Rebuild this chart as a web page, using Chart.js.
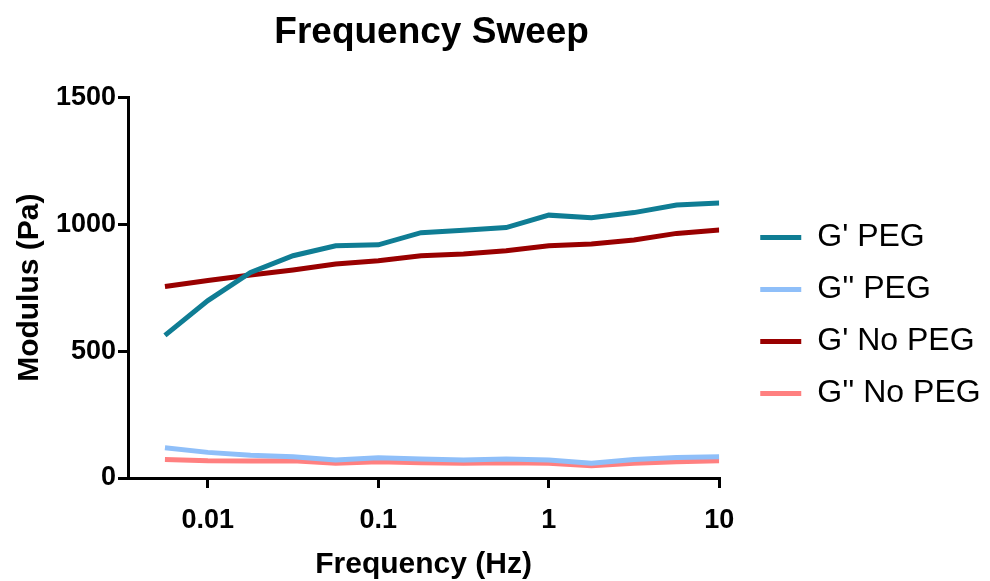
<!DOCTYPE html>
<html>
<head>
<meta charset="utf-8">
<script src="https://cdn.jsdelivr.net/npm/chart.js@4.4.1/dist/chart.umd.min.js"></script>
<style>
  html, body { margin: 0; padding: 0; background: #fff; }
  #wrap { width: 990px; height: 581px; }
</style>
</head>
<body>
<div id="wrap"><canvas id="sweepChart" width="990" height="581"></canvas></div>
<script>
// Frequency points (Hz), 4 per decade
const freqs = [0.0056, 0.01, 0.0178, 0.0316, 0.0562, 0.1, 0.178, 0.316, 0.562, 1, 1.78, 3.16, 5.62, 10];

// Moduli (Pa)
const gPrimePeg = [562, 699, 810, 876, 915, 919, 967, 976, 987, 1036, 1026, 1046, 1076, 1084];
const gDoublePeg = [119, 101, 90, 84, 71, 80, 75, 71, 75, 71, 58, 73, 81, 84];
const gPrimeNoPeg = [755, 778, 800, 820, 843, 856, 876, 883, 896, 915, 922, 938, 964, 977];
const gDoubleNoPeg = [73, 68, 67, 68, 58, 64, 60, 58, 60, 58, 48, 58, 64, 68];

const seriesNames = ["G' PEG", "G'' PEG", "G' No PEG", "G'' No PEG"];
const xTickValues = [0.01, 0.1, 1, 10];
const xTickLabels = ['0.01', '0.1', '1', '10'];
const yTickValues = [0, 500, 1000, 1500];

const colors = {
  teal: '#0f7d94',
  lightBlue: '#8fbff9',
  darkRed: '#990000',
  pink: '#ff8080'
};

const FONT = "'Liberation Sans', Arial, Helvetica, sans-serif";
Chart.defaults.font.family = FONT;
Chart.defaults.color = '#000';

const toPoints = vals => vals.map((v, i) => ({ x: freqs[i], y: v }));

const mkSet = (label, vals, color) => ({
  label,
  data: toPoints(vals),
  borderColor: color,
  backgroundColor: color,
  borderWidth: 5,
  pointRadius: 0,
  tension: 0,
  fill: false
});

// nudge legend + title blocks, like the original layout
const blockNudge = {
  id: 'blockNudge',
  afterLayout(chart) {
    const lg = chart.legend;
    if (lg) {
      lg.left += 21; lg.right += 21;
      lg.top += 25; lg.bottom += 25;
    }
    const tb = chart.titleBlock;
    if (tb) { tb.left += 8; tb.right += 8; }
  }
};

const ctx = document.getElementById('sweepChart').getContext('2d');
new Chart(ctx, {
  type: 'line',
  data: {
    datasets: [
      mkSet(seriesNames[0], gPrimePeg, colors.teal),
      mkSet(seriesNames[1], gDoublePeg, colors.lightBlue),
      mkSet(seriesNames[2], gPrimeNoPeg, colors.darkRed),
      mkSet(seriesNames[3], gDoubleNoPeg, colors.pink)
    ]
  },
  plugins: [blockNudge],
  options: {
    responsive: false,
    animation: false,
    layout: { padding: { right: 31 } },
    plugins: {
      title: {
        display: true,
        text: 'Frequency Sweep',
        fullSize: false,
        font: { size: 37, weight: 'bold' },
        padding: { top: 11, bottom: 42 }
      },
      legend: {
        position: 'right',
        labels: {
          boxWidth: 41,
          boxHeight: 5,
          padding: 20,
          font: { size: 32 },
          generateLabels(chart) {
            return Chart.defaults.plugins.legend.labels.generateLabels(chart)
              .map(l => Object.assign(l, { lineWidth: 0 }));
          }
        }
      },
      tooltip: { enabled: false }
    },
    scales: {
      x: {
        type: 'logarithmic',
        min: 0.0034,
        max: 10,
        afterBuildTicks(scale) {
          scale.ticks = xTickValues.map(v => ({ value: v }));
        },
        afterFit(scale) { scale.height = 103; },
        ticks: {
          autoSkip: false,
          maxRotation: 0,
          padding: 16,
          font: { size: 27, weight: 'bold' },
          callback: (v, i) => xTickLabels[i]
        },
        grid: { drawOnChartArea: false, drawTicks: true, tickLength: 10, color: '#000', lineWidth: 3 },
        border: { color: '#000', width: 3 },
        title: {
          display: true,
          text: 'Frequency (Hz)',
          font: { size: 30, weight: 'bold' },
          padding: { top: 0, bottom: -2 }
        }
      },
      y: {
        min: 0,
        max: 1500,
        afterBuildTicks(scale) {
          scale.ticks = yTickValues.map(v => ({ value: v }));
        },
        afterFit(scale) { scale.width = 128; },
        ticks: {
          padding: 2,
          font: { size: 27, weight: 'bold' },
          callback: v => String(v)
        },
        grid: { drawOnChartArea: false, drawTicks: true, tickLength: 10, color: '#000', lineWidth: 3 },
        border: { color: '#000', width: 3 },
        title: {
          display: true,
          text: 'Modulus (Pa)',
          font: { size: 30, weight: 'bold' },
          padding: { top: 12, bottom: 0 }
        }
      }
    }
  }
});
</script>
</body>
</html>
